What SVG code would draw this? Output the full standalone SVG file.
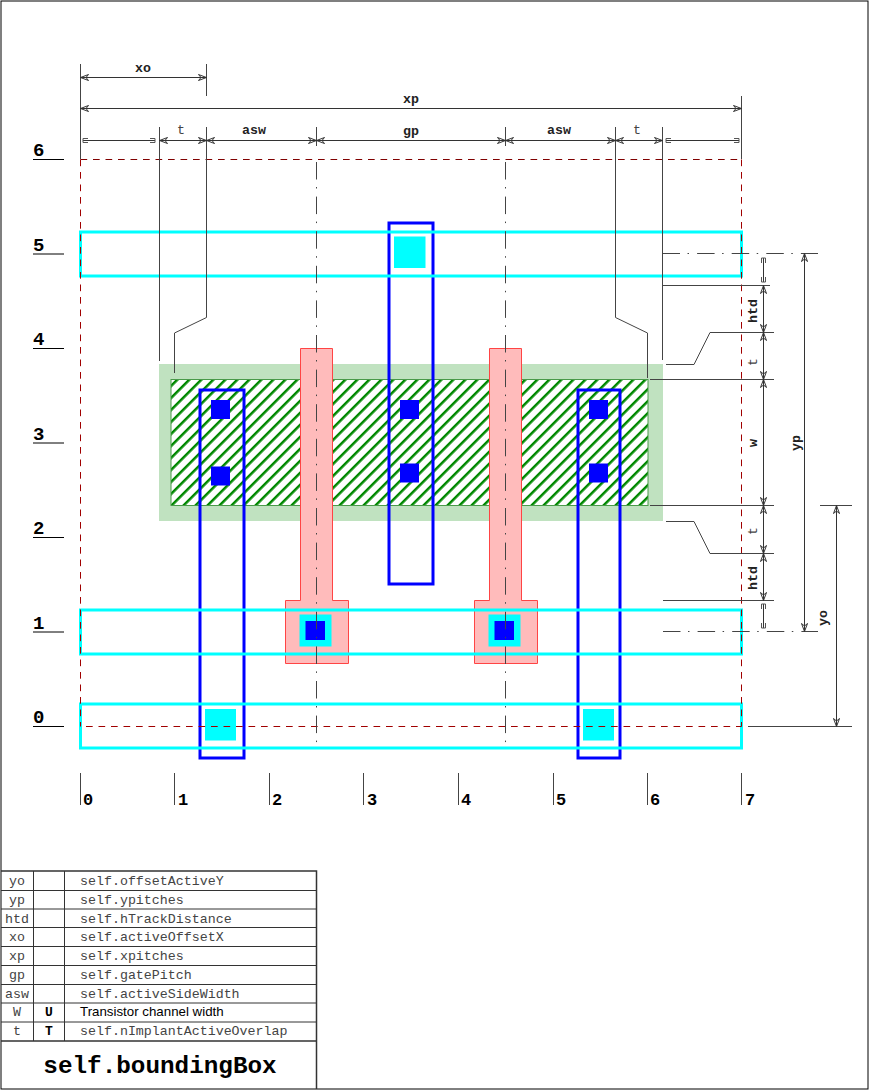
<svg xmlns="http://www.w3.org/2000/svg" width="869" height="1090" viewBox="0 0 869 1090">
<style>
text{font-family:"Liberation Mono",monospace;fill:#000}
.dim{font-size:13.3px;font-weight:bold;text-anchor:middle;fill:#222}
.thin{font-size:13.3px;text-anchor:middle;fill:#444}
.idx{font-size:19px;font-weight:bold}
.tb{font-size:13.3px;fill:#444}
.tc{font-size:13.3px;fill:#444;text-anchor:middle}
.l{fill:none;stroke:#444;stroke-width:1}
.d{fill:none;stroke:#333;stroke-width:1;marker-start:url(#a);marker-end:url(#a)}
.e{fill:none;stroke:#333;stroke-width:1;marker-start:url(#b);marker-end:url(#b)}
.c{fill:none;stroke:#444;stroke-width:1;stroke-dasharray:17.5 7.5 1.5 8.1}
.r{fill:none;stroke:#a00000;stroke-width:1;stroke-dasharray:6.7 5.8}
.track{fill:none;stroke:#00ffff;stroke-width:3}
.m1{fill:none;stroke:#0000ff;stroke-width:3}
.poly{fill:#ffbbbb;stroke:#ff4444;stroke-width:1}
.cy{fill:#00ffff}
.bl{fill:#0000ff}
.tl{stroke:#333;stroke-width:1;fill:none}
</style>
<defs>
<marker id="a" markerUnits="userSpaceOnUse" markerWidth="20" markerHeight="10" refX="10" refY="5" orient="auto-start-reverse" viewBox="0 0 20 10"><path d="M2,2 L10,5 L2,8 M2,2 L4.5,5 L2,8" fill="none" stroke="#333" stroke-width="1"/></marker>
<marker id="b" markerUnits="userSpaceOnUse" markerWidth="12" markerHeight="10" refX="7" refY="5" orient="auto-start-reverse" viewBox="0 0 12 10"><path d="M2,3 H7 V7 H2" fill="none" stroke="#555" stroke-width="1"/></marker>
<pattern id="hatch" patternUnits="userSpaceOnUse" width="8.485" height="8.485" patternTransform="translate(3.300,0) rotate(45)"><rect width="8.485" height="8.485" fill="#fff"/><rect width="2.500" height="8.485" fill="#008800"/></pattern>
</defs>
<rect x="1" y="1" width="867" height="1088" fill="#fff" stroke="#000" stroke-width="1"/>

<g id="implant"><rect x="159" y="364" width="504" height="157" fill="#c0e2c0"/></g>
<g id="active"><rect x="171" y="379.500" width="477" height="126" fill="url(#hatch)" stroke="#4a9a4a" stroke-width="1"/></g>
<g id="gate-left"><path class="poly" d="M300.500,348.500H332.500V600.500H348.500V663.500H285.500V600.500H300.500Z"/></g>
<g id="gate-right"><path class="poly" d="M489.500,348.500H521.500V600.500H537.500V663.500H474.500V600.500H489.500Z"/></g>
<g id="gate-contact-left"><rect class="cy" x="299.500" y="614.500" width="32" height="32"/><rect class="bl" x="305.500" y="621" width="19.500" height="19"/></g>
<g id="gate-contact-right"><rect class="cy" x="488.500" y="614.500" width="32" height="32"/><rect class="bl" x="494.500" y="621" width="19.500" height="19"/></g>
<g id="metal-left"><rect class="m1" x="200" y="390" width="44" height="368"/><rect class="bl" x="211" y="400" width="19" height="19"/><rect class="bl" x="211" y="466.500" width="19" height="19"/><rect class="cy" x="205" y="709" width="31" height="31.500"/></g>
<g id="metal-mid"><rect class="m1" x="389" y="223" width="44" height="361"/><rect class="bl" x="400" y="400" width="19" height="19"/><rect class="bl" x="400" y="463.500" width="19" height="19"/><rect class="cy" x="394" y="236.500" width="31.500" height="31.500"/></g>
<g id="metal-right"><rect class="m1" x="578" y="390" width="42" height="368"/><rect class="bl" x="589" y="400" width="19" height="19"/><rect class="bl" x="589" y="463.500" width="19" height="19"/><rect class="cy" x="583" y="709" width="31" height="31.500"/></g>
<g id="tracks"><rect class="track" x="80.500" y="232" width="661" height="44"/><rect class="track" x="80.500" y="610" width="661" height="44"/><rect class="track" x="80.500" y="704" width="661" height="44"/></g>

<g id="connectors">
<path d="M80.500,159.500H741.500" fill="none" stroke="#800000" stroke-dasharray="6.700 5.800"/>
<path class="r" d="M80.500,159.500V726.500"/><path class="r" d="M741.500,159.500V726.500"/><path class="r" d="M86,726.500H741.500"/>
<path class="l" d="M80.500,64V159M206.500,64V96M741.500,96V159"/>
<path class="l" d="M159.500,127V361M206.500,127V317.500L174.500,333V373M316.500,127V146M505.500,127V146M615.500,127V317.500L647.500,333V378M662.500,127V360"/>
<path class="c" d="M316.500,162V743"/><path class="c" d="M505.500,162V743"/>
<path class="d" d="M80.500,77.500H206.500"/><path class="d" d="M80.500,108.500H741.500"/>
<path class="e" d="M83,140.500H155"/><path class="d" d="M159.500,140.500H206.500"/><path class="d" d="M206.500,140.500H316.500"/><path class="d" d="M316.500,140.500H505.500"/><path class="d" d="M505.500,140.500H615.500"/><path class="d" d="M615.500,140.500H662.500"/><path class="e" d="M666,140.500H739"/>
<path class="c" d="M662.500,253.500H818"/><path class="c" d="M663,631.500H818"/>
<path class="l" d="M662.500,285.500H770M666,364.500H694L710,332.500H774M650,379.500H774M650,505.500H774M666,521.500H694L710,553.500H774M663,600.500H774M748,726.500H852M820,505.500H852"/>
<path class="e" d="M763.500,258V282"/><path class="d" d="M763.500,285.500V332.500"/><path class="d" d="M763.500,332.500V379.500"/><path class="d" d="M763.500,379.500V505.500"/><path class="d" d="M763.500,505.500V553.500"/><path class="d" d="M763.500,553.500V600.500"/><path class="e" d="M763.500,604V628"/>
<path class="d" d="M804.500,253.500V631.500"/><path class="d" d="M836.500,505.500V726.500"/>
</g>

<g id="dim-labels">
<text class="dim" x="143" y="72">xo</text><text class="dim" x="411" y="103">xp</text>
<text class="thin" x="181" y="134">t</text><text class="dim" x="254" y="134">asw</text><text class="dim" x="411" y="135">gp</text><text class="dim" x="559" y="134">asw</text><text class="thin" x="637" y="134">t</text>
<text class="dim" transform="translate(757,311) rotate(-90)">htd</text><text class="thin" transform="translate(757,362) rotate(-90)">t</text><text class="dim" transform="translate(757,443) rotate(-90)">w</text><text class="thin" transform="translate(757,531) rotate(-90)">t</text><text class="dim" transform="translate(757,578) rotate(-90)">htd</text>
<text class="dim" transform="translate(800,443) rotate(-90)">yp</text><text class="dim" transform="translate(827,618) rotate(-90)">yo</text>
</g>

<g id="row-index">
<path d="M33,159.500H64M33,254H64M33,348.500H64M33,443H64M33,537.500H64M33,632H64M33,726.500H64" fill="none" stroke="#000"/>
<text class="idx" x="33" y="156">6</text><text class="idx" x="33" y="251">5</text><text class="idx" x="33" y="345">4</text><text class="idx" x="33" y="440">3</text><text class="idx" x="33" y="534">2</text><text class="idx" x="33" y="629">1</text><text class="idx" x="33" y="723">0</text>
</g>
<g id="col-index">
<path class="l" d="M80.500,773V805M174.500,773V805M269.500,773V805M363.500,773V805M458.500,773V805M553.500,773V805M647.500,773V805M741.500,773V805"/>
<text class="idx" x="83" y="805" style="font-size:17px">0</text><text class="idx" x="178" y="805" style="font-size:17px">1</text><text class="idx" x="272" y="805" style="font-size:17px">2</text><text class="idx" x="367" y="805" style="font-size:17px">3</text><text class="idx" x="461" y="805" style="font-size:17px">4</text><text class="idx" x="556" y="805" style="font-size:17px">5</text><text class="idx" x="650" y="805" style="font-size:17px">6</text><text class="idx" x="745" y="805" style="font-size:17px">7</text>
</g>

<g id="table">
<path d="M1,871H316.500V1089M1,1041H316.500" fill="none" stroke="#333" stroke-width="1.500"/>
<path class="tl" d="M1,890.500H316M1,909H316M1,927.500H316M1,946.500H316M1,965.500H316M1,984.500H316M1,1003H316M1,1022H316M33.500,871V1041M64.500,871V1041"/>
<text class="tc" x="17" y="885">yo</text><text class="tb" x="80" y="885">self.offsetActiveY</text>
<text class="tc" x="17" y="904">yp</text><text class="tb" x="80" y="904">self.ypitches</text>
<text class="tc" x="17" y="923">htd</text><text class="tb" x="80" y="923">self.hTrackDistance</text>
<text class="tc" x="17" y="941">xo</text><text class="tb" x="80" y="941">self.activeOffsetX</text>
<text class="tc" x="17" y="960">xp</text><text class="tb" x="80" y="960">self.xpitches</text>
<text class="tc" x="17" y="979">gp</text><text class="tb" x="80" y="979">self.gatePitch</text>
<text class="tc" x="17" y="998">asw</text><text class="tb" x="80" y="998">self.activeSideWidth</text>
<text class="tc" x="17" y="1016">W</text><text x="49" y="1016" style="font-size:13px;font-weight:bold;text-anchor:middle">U</text><text x="80" y="1016" style="font-family:'Liberation Sans',sans-serif;font-size:13.3px">Transistor channel width</text>
<text class="tc" x="17" y="1035">t</text><text x="49" y="1035" style="font-size:13px;font-weight:bold;text-anchor:middle">T</text><text class="tb" x="80" y="1035">self.nImplantActiveOverlap</text>
<text x="160" y="1073" style="font-size:24.300px;font-weight:bold;text-anchor:middle">self.boundingBox</text>
</g>
</svg>
